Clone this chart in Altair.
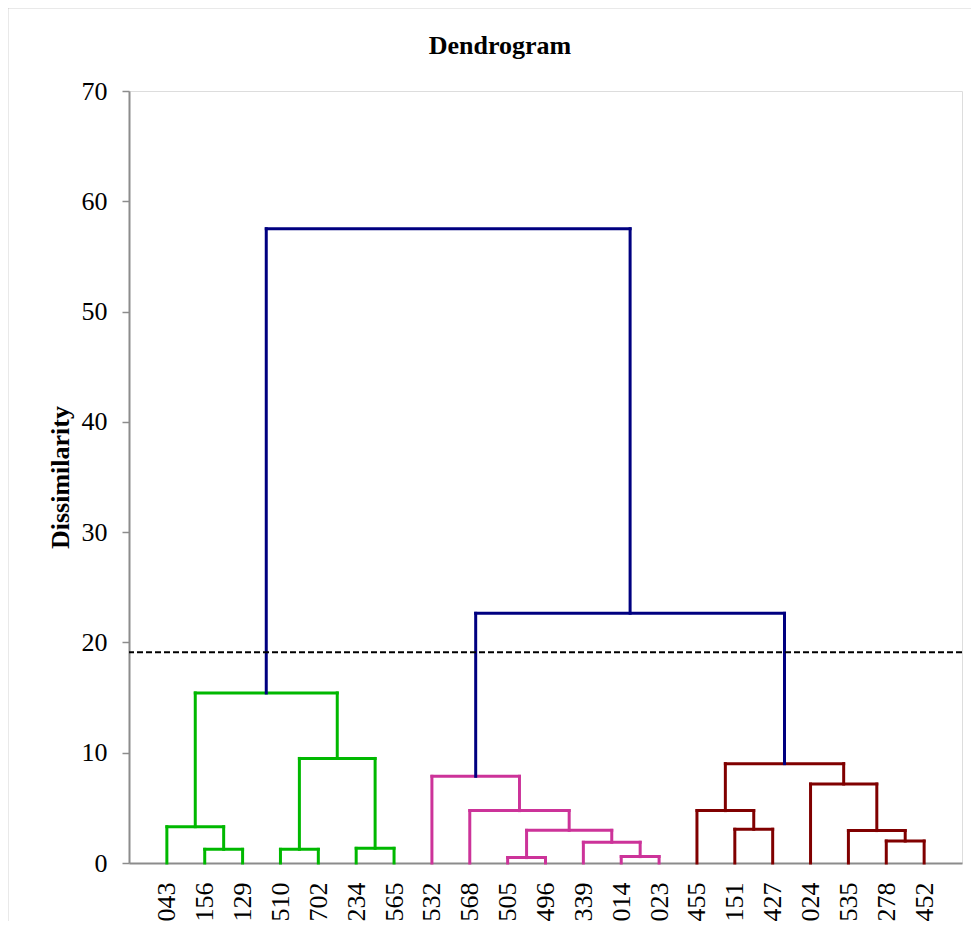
import altair as alt
import pandas as pd

# Leaf order along the x axis
leaves = ["043", "156", "129", "510", "702", "234", "565",
          "532", "568", "505", "496", "339", "014", "023",
          "455", "151", "427", "024", "535", "278", "452"]

# Agglomeration steps (internal node id, left child, right child, height, cluster)
node_ids = ["G1", "G2", "G3", "G4", "G5", "G6",
            "P1", "P2", "P3", "P4", "P5", "P6",
            "M1", "M2", "M3", "M4", "M5", "M6",
            "B1", "B2"]
left_child = ["156", "043", "510", "234", "G3", "G2",
              "505", "014", "339", "P1", "568", "532",
              "151", "455", "278", "535", "024", "M2",
              "P6", "G6"]
right_child = ["129", "G1", "702", "565", "G4", "G5",
               "496", "023", "P2", "P3", "P4", "P5",
               "427", "M1", "452", "M3", "M4", "M5",
               "M6", "B1"]
heights = [1.24, 3.29, 1.24, 1.33, 9.48, 15.42,
           0.49, 0.58, 1.88, 2.96, 4.75, 7.86,
           3.06, 4.75, 1.99, 2.94, 7.16, 9.01,
           22.64, 57.5]
cluster = ["green"] * 6 + ["pink"] * 6 + ["maroon"] * 6 + ["navy"] * 2

cutoff = 19.1
y_ticks = [0, 10, 20, 30, 40, 50, 60, 70]

palette = {"green": "#00B800", "pink": "#CC3399", "maroon": "#800000", "navy": "#000080"}

# ---- dendrogram layout (x = midpoint of children, y = merge height) ----
pos = {name: i + 1 for i, name in enumerate(leaves)}
hgt = {name: 0.0 for name in leaves}
rows = []
for nid, l, r, h, c in zip(node_ids, left_child, right_child, heights, cluster):
    xl, xr = pos[l], pos[r]
    col = palette[c]
    rows.append(dict(x=xl, x2=xr, y=h, y2=h, color=col))
    rows.append(dict(x=xl, x2=xl, y=hgt[l], y2=h, color=col))
    rows.append(dict(x=xr, x2=xr, y=hgt[r], y2=h, color=col))
    pos[nid] = (xl + xr) / 2
    hgt[nid] = h
seg = pd.DataFrame(rows)

label_expr = "[" + ",".join("'%s'" % s for s in leaves) + "][datum.value - 1]"

xscale = alt.Scale(domain=[0, len(leaves) + 1], nice=False, zero=False)
yscale = alt.Scale(domain=[0, 70], nice=False)

links = alt.Chart(seg).mark_rule(strokeWidth=3, strokeCap="square").encode(
    x=alt.X("x:Q", scale=xscale,
            axis=alt.Axis(values=list(range(1, len(leaves) + 1)), labelExpr=label_expr,
                          labelAngle=270, ticks=False, grid=False, title=None,
                          labelPadding=19, labelFontSize=26, labelFont="Liberation Serif",
                          labelColor="black", domainColor="#8C8C8C", domainWidth=2,
                          labelOverlap=False)),
    x2="x2:Q",
    y=alt.Y("y:Q", scale=yscale,
            axis=alt.Axis(values=y_ticks, grid=False, title="Dissimilarity",
                          titleFont="Liberation Serif", titleFontSize=26, titleFontWeight="bold",
                          titleColor="black", titlePadding=8,
                          labelFont="Liberation Serif", labelFontSize=26, labelColor="black",
                          labelPadding=15, tickSize=7, tickColor="#8C8C8C", tickWidth=1.5,
                          domainColor="#8C8C8C", domainWidth=2)),
    y2="y2:Q",
    color=alt.Color("color:N", scale=None),
)

cut = alt.Chart(pd.DataFrame({"y": [cutoff]})).mark_rule(
    color="black", strokeWidth=2, strokeDash=[6, 3]
).encode(y=alt.Y("y:Q", scale=yscale))

title = alt.Chart(pd.DataFrame({"t": ["Dendrogram"]})).mark_text(
    font="Liberation Serif", fontSize=26, fontWeight="bold", color="black",
    align="center", baseline="alphabetic"
).encode(text="t:N", x=alt.value(371), y=alt.value(-37))

frame = alt.Chart(pd.DataFrame({"a": [0]})).mark_rect(
    fill=None, stroke="#A6A6A6", strokeWidth=1.5
).encode(x=alt.value(-121.5), x2=alt.value(880), y=alt.value(-83.5), y2=alt.value(900))

chart = alt.layer(frame, links, cut, title).properties(
    width=833, height=772,
    autosize=alt.AutoSizeParams(type="none"),
    padding={"left": 121, "top": 83, "right": 9, "bottom": 58},
).configure_view(stroke="#8C8C8C", strokeWidth=2).configure(background="white")

chart.save("out.html", embed_options={"renderer": "svg", "actions": False})
